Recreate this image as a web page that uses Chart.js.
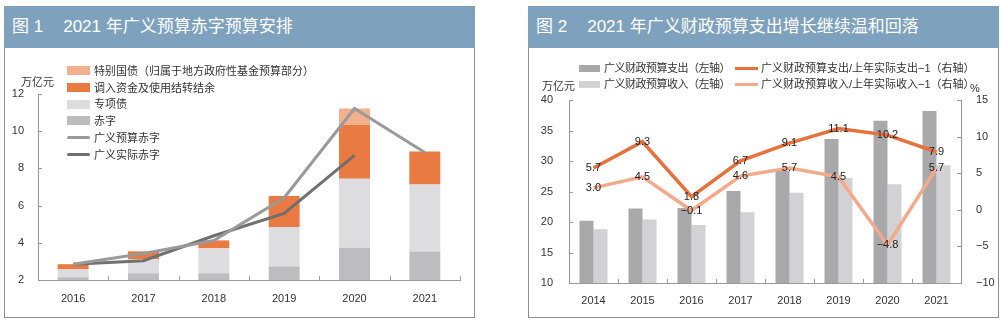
<!DOCTYPE html>
<html>
<head>
<meta charset="utf-8">
<title>广义预算赤字与广义财政预算支出</title>
<script src="https://cdn.jsdelivr.net/npm/chart.js"></script>
<style>
  body { margin:0; background:#fff; font-family:"Liberation Sans","Noto Sans CJK SC",sans-serif; color:#333; }
  .panel { position:absolute; border:1px solid #8e8e8e; box-sizing:border-box; }
  .title { position:absolute; left:-1px; right:-1px; top:-1px; height:42px; background:#7ea2be; color:#fff;
           font-size:17px; line-height:42px; padding-left:8px; white-space:nowrap; }
  .title .fig { margin-right:20px; }
  .txt { position:absolute; font-size:11px; line-height:14px; white-space:nowrap; color:#333; }
  .sw { position:absolute; }
  canvas { position:absolute; }
</style>
</head>
<body>
  <div class="panel" style="left:4px;top:6px;width:471px;height:312px">
    <div class="title"><span class="fig">图 1</span>2021 年广义预算赤字预算安排</div>
  </div>
  <div class="panel" style="left:528px;top:6px;width:471px;height:312px">
    <div class="title"><span class="fig">图 2</span>2021 年广义财政预算支出增长继续温和回落</div>
  </div>

  <canvas id="deficitChart" width="468" height="268" style="left:5px;top:49px"></canvas>
  <canvas id="spendChart" width="468" height="268" style="left:529px;top:49px"></canvas>

  <!-- legend, figure 1 -->
  <div class="sw" style="left:67px;top:66px;width:23px;height:9px;background:#f3b08c"></div>
  <div class="txt" style="left:94px;top:64px">特别国债（归属于地方政府性基金预算部分）</div>
  <div class="sw" style="left:67px;top:83px;width:23px;height:9px;background:#e87a42"></div>
  <div class="txt" style="left:94px;top:81px">调入资金及使用结转结余</div>
  <div class="sw" style="left:67px;top:100px;width:23px;height:9px;background:#dddddf"></div>
  <div class="txt" style="left:94px;top:97px">专项债</div>
  <div class="sw" style="left:67px;top:116px;width:23px;height:9px;background:#bdbdbf"></div>
  <div class="txt" style="left:94px;top:114px">赤字</div>
  <div class="sw" style="left:67px;top:136px;width:23px;height:3px;border-radius:2px;background:#9a9a9a"></div>
  <div class="txt" style="left:94px;top:131px">广义预算赤字</div>
  <div class="sw" style="left:67px;top:153px;width:23px;height:3px;border-radius:2px;background:#707070"></div>
  <div class="txt" style="left:94px;top:148px">广义实际赤字</div>
  <div class="txt" style="left:21px;top:75px">万亿元</div>

  <!-- legend, figure 2 -->
  <div class="sw" style="left:579px;top:65px;width:21px;height:7px;background:#a9a9ac"></div>
  <div class="txt" style="left:604px;top:61px;letter-spacing:-0.5px">广义财政预算支出（左轴）</div>
  <div class="sw" style="left:735px;top:67px;width:23px;height:3px;background:#e8703a"></div>
  <div class="txt" style="left:761px;top:61px">广义财政预算支出/上年实际支出−1（右轴）</div>
  <div class="sw" style="left:579px;top:81px;width:21px;height:7px;background:#d2d2d4"></div>
  <div class="txt" style="left:604px;top:77px;letter-spacing:-0.5px">广义财政预算收入（左轴）</div>
  <div class="sw" style="left:735px;top:83px;width:23px;height:3px;background:#f4a98a"></div>
  <div class="txt" style="left:761px;top:77px">广义财政预算收入/上年实际收入−1（右轴）</div>
  <div class="txt" style="left:542px;top:79px">万亿元</div>
  <div class="txt" style="left:970px;top:81px">%</div>

<script>
// figure 1 data (万亿元)
const years1 = ['2016', '2017', '2018', '2019', '2020', '2021'];
const deficit = [2.15, 2.36, 2.36, 2.73, 3.74, 3.53];
const specialBonds = [0.42, 0.76, 1.34, 2.12, 3.70, 3.61];
const transferFunds = [0.28, 0.42, 0.43, 1.67, 2.91, 1.77];
const specialTreasury = [0, 0, 0, 0, 0.87, 0];
const budgetDeficit = [2.85, 3.42, 4.12, 6.42, 11.22, 8.86];
const actualDeficit = [2.85, 3.04, 4.38, 5.58, 8.7, null];
const ticks1 = [2, 4, 6, 8, 10, 12];

// figure 2 data
const years2 = ['2014', '2015', '2016', '2017', '2018', '2019', '2020', '2021'];
const expenditure = [20.2, 22.2, 22.3, 25.1, 28.4, 33.6, 36.6, 38.2];
const revenue = [18.8, 20.4, 19.5, 21.6, 24.8, 27.2, 26.2, 29.3];
const expGrowth = [5.7, 9.3, 1.8, 6.7, 9.1, 11.1, 10.2, 7.9];
const revGrowth = [3.0, 4.5, -0.1, 4.6, 5.7, 4.5, -4.8, 5.7];
const leftTicks = [10, 15, 20, 25, 30, 35, 40];
const rightTicks = [-10, -5, 0, 5, 10, 15];

const FONT = '"Liberation Sans", "Noto Sans CJK SC", sans-serif';
const AXIS = '#999';

// short tick marks pointing into the plot
const innerTicks = {
  id: 'innerTicks',
  afterDraw(chart) {
    const ctx = chart.ctx, a = chart.chartArea;
    ctx.save();
    ctx.strokeStyle = AXIS;
    ctx.lineWidth = 1;
    ctx.beginPath();
    Object.values(chart.scales).forEach(s => {
      if (s.axis === 'x') {
        const n = s.getLabels().length;
        for (let i = 0; i <= n; i++) {
          const x = Math.round(s.getPixelForValue(i - 0.5)) + 0.5;
          ctx.moveTo(x, a.bottom);
          ctx.lineTo(x, a.bottom - 4);
        }
      } else {
        const left = s.position === 'left';
        const x0 = left ? a.left : a.right;
        s.ticks.forEach(t => {
          const y = Math.round(s.getPixelForValue(t.value)) + 0.5;
          ctx.moveTo(x0, y);
          ctx.lineTo(x0 + (left ? 4 : -4), y);
        });
      }
    });
    ctx.stroke();
    ctx.restore();
  }
};

// numbers on the growth lines
const valueLabels = {
  id: 'valueLabels',
  afterDatasetsDraw(chart) {
    const ctx = chart.ctx;
    ctx.save();
    ctx.font = '11px ' + FONT;
    ctx.fillStyle = '#222';
    ctx.textAlign = 'center';
    ctx.textBaseline = 'middle';
    chart.data.datasets.forEach((ds, i) => {
      if (!ds.showValues) return;
      chart.getDatasetMeta(i).data.forEach((pt, j) => {
        const txt = ds.data[j].toFixed(1).replace('-', '−');
        ctx.fillText(txt, pt.x, pt.y);
      });
    });
    ctx.restore();
  }
};

Chart.defaults.font.family = FONT;
Chart.defaults.color = '#333';

new Chart(document.getElementById('deficitChart'), {
  type: 'bar',
  data: {
    labels: years1,
    datasets: [
      { type: 'line', label: '广义预算赤字', data: budgetDeficit, stack: 'l1', order: 0,
        borderColor: '#9a9a9a', borderWidth: 3, pointRadius: 0, tension: 0 },
      { type: 'line', label: '广义实际赤字', data: actualDeficit, stack: 'l2', order: 0,
        borderColor: '#707070', borderWidth: 3, pointRadius: 0, tension: 0 },
      { label: '赤字', data: deficit, backgroundColor: '#bdbdbf', stack: 'b', order: 1 },
      { label: '专项债', data: specialBonds, backgroundColor: '#dddddf', stack: 'b', order: 1 },
      { label: '调入资金及使用结转结余', data: transferFunds, backgroundColor: '#e87a42', stack: 'b', order: 1 },
      { label: '特别国债（归属于地方政府性基金预算部分）', data: specialTreasury, backgroundColor: '#f3b08c', stack: 'b', order: 1 }
    ]
  },
  options: {
    responsive: false,
    animation: false,
    layout: { padding: { top: 45, right: 13, left: 0, bottom: 0 } },
    plugins: { legend: { display: false }, tooltip: { enabled: false } },
    datasets: { bar: { barPercentage: 0.44, categoryPercentage: 1 } },
    scales: {
      x: {
        stacked: true,
        grid: { display: false },
        border: { color: AXIS },
        ticks: { font: { size: 11 }, color: '#333', padding: 4 },
        afterFit: s => { s.height = 37; }
      },
      y: {
        stacked: true,
        min: 2, max: 12,
        grid: { display: false },
        border: { color: AXIS },
        ticks: { font: { size: 11 }, color: '#333', padding: 6 },
        afterBuildTicks: s => { s.ticks = ticks1.map(v => ({ value: v })); },
        afterFit: s => { s.width = 33; }
      }
    }
  },
  plugins: [innerTicks]
});

new Chart(document.getElementById('spendChart'), {
  type: 'bar',
  data: {
    labels: years2,
    datasets: [
      { type: 'line', label: '广义财政预算支出/上年实际支出−1（右轴）', data: expGrowth, yAxisID: 'y1', order: 0,
        borderColor: '#e8703a', borderWidth: 3.5, pointRadius: 0, tension: 0, showValues: true },
      { type: 'line', label: '广义财政预算收入/上年实际收入−1（右轴）', data: revGrowth, yAxisID: 'y1', order: 0,
        borderColor: '#f4a98a', borderWidth: 3.5, pointRadius: 0, tension: 0, showValues: true },
      { label: '广义财政预算支出（左轴）', data: expenditure, backgroundColor: '#a9a9ac', yAxisID: 'y', order: 1 },
      { label: '广义财政预算收入（左轴）', data: revenue, backgroundColor: '#d2d2d4', yAxisID: 'y', order: 1 }
    ]
  },
  options: {
    responsive: false,
    animation: false,
    layout: { padding: { top: 51, right: 0, left: 0, bottom: 0 } },
    plugins: { legend: { display: false }, tooltip: { enabled: false } },
    datasets: { bar: { barPercentage: 1, categoryPercentage: 0.571 } },
    scales: {
      x: {
        grid: { display: false },
        border: { color: AXIS },
        ticks: { font: { size: 11 }, color: '#333', padding: 3 },
        afterFit: s => { s.height = 34; }
      },
      y: {
        position: 'left',
        min: 10, max: 40,
        grid: { display: false },
        border: { color: AXIS },
        ticks: { font: { size: 11 }, color: '#333', padding: 8 },
        afterBuildTicks: s => { s.ticks = leftTicks.map(v => ({ value: v })); },
        afterFit: s => { s.width = 40; }
      },
      y1: {
        position: 'right',
        min: -10, max: 15,
        grid: { display: false },
        border: { color: AXIS },
        ticks: { font: { size: 11 }, color: '#333', padding: 7,
                 callback: v => String(v).replace('-', '−') },
        afterBuildTicks: s => { s.ticks = rightTicks.map(v => ({ value: v })); },
        afterFit: s => { s.width = 36; }
      }
    }
  },
  plugins: [innerTicks, valueLabels]
});
</script>
</body>
</html>
